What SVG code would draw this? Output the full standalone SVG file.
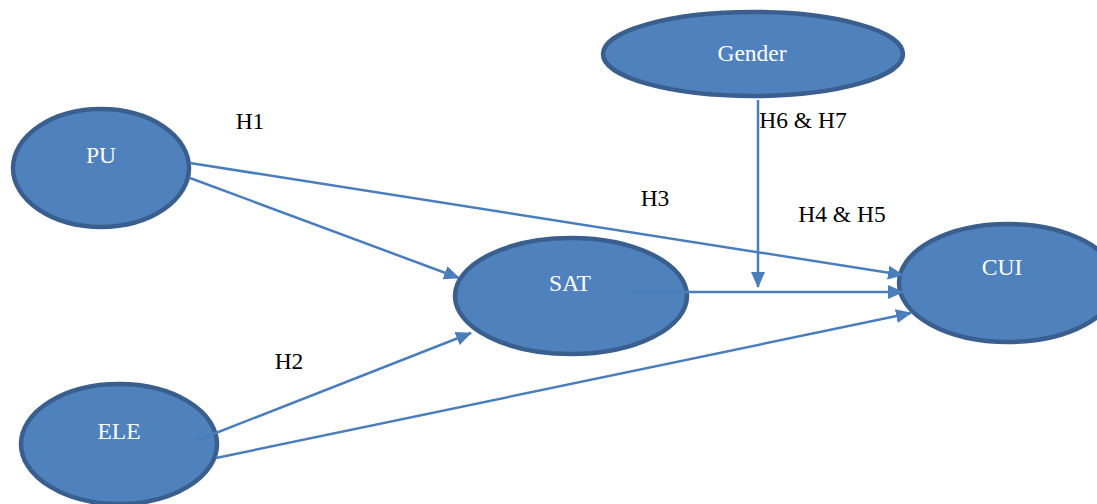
<svg xmlns="http://www.w3.org/2000/svg" width="1097" height="504" viewBox="0 0 1097 504">
<style>
.node{fill:#4F81BD;stroke:#3A5F8F;stroke-width:4.5}
.nl{font-family:"Liberation Serif",serif;font-size:23.5px;fill:#ffffff;text-anchor:middle}
.lb{font-family:"Liberation Serif",serif;font-size:23.5px;fill:#000000;text-anchor:middle}
.c{stroke:#4A7EBB;stroke-width:2.5;fill:none;marker-end:url(#ah)}
</style>
<defs>
<marker id="ah" markerUnits="userSpaceOnUse" markerWidth="16" markerHeight="14" refX="15" refY="7" orient="auto">
<path d="M0,0 L16,7 L0,14 Z" fill="#4A7EBB"/>
</marker>
</defs>
<rect width="1097" height="504" fill="#ffffff"/>
<g id="PU"><ellipse class="node" cx="101" cy="168" rx="88" ry="59"/><text class="nl" x="101" y="163">PU</text></g>
<g id="SAT"><ellipse class="node" cx="571" cy="296" rx="116" ry="58"/><text class="nl" x="570" y="291">SAT</text></g>
<g id="CUI"><ellipse class="node" cx="1008" cy="283" rx="109" ry="59"/><text class="nl" x="1002" y="275">CUI</text></g>
<g id="Gender"><ellipse class="node" cx="753" cy="54" rx="150" ry="42"/><text class="nl" x="752" y="61">Gender</text></g>
<g id="ELE"><ellipse class="node" cx="119" cy="444" rx="98" ry="60"/><text class="nl" x="119" y="439">ELE</text></g>
<g id="connectors">
<line class="c" x1="190" y1="163" x2="903" y2="275"/>
<line class="c" x1="190" y1="178" x2="459" y2="278"/>
<line class="c" x1="632" y1="292" x2="903" y2="292"/>
<line class="c" x1="758" y1="100" x2="758" y2="287"/>
<line class="c" x1="198" y1="440" x2="471" y2="333"/>
<line class="c" x1="216" y1="458" x2="911" y2="313"/>
</g>
<g id="labels">
<text class="lb" x="250" y="129">H1</text>
<text class="lb" x="289" y="369">H2</text>
<text class="lb" x="655" y="206">H3</text>
<text class="lb" x="842" y="222">H4 &amp; H5</text>
<text class="lb" x="803" y="128">H6 &amp; H7</text>
</g>
</svg>
